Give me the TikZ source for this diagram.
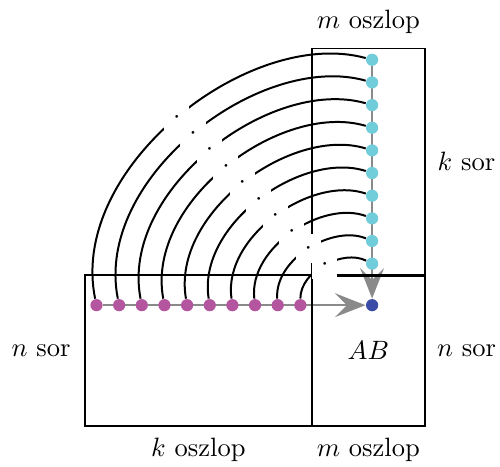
\documentclass[tikz,border=0pt]{standalone}
\usetikzlibrary{arrows.meta,backgrounds}
\definecolor{rowpurple}{HTML}{B4559F}
\definecolor{colcyan}{HTML}{72CDDA}
\definecolor{prodblue}{HTML}{3A4CA6}
\definecolor{flowgray}{HTML}{8A8A8A}
\tikzset{
  matrixbox/.style={draw=black,line width=.7pt},
  entry/.style={circle,inner sep=0pt,minimum size=4.6pt},
  rowentry/.style={entry,fill=rowpurple},
  colentry/.style={entry,fill=colcyan},
  prodentry/.style={entry,fill=prodblue},
  pairing/.style={draw=black,line width=.75pt,relative,out=60,in=123,
    out looseness=.95,in looseness=.85},
  gapdot/.style={fill=white,inner sep=3.33pt},
  sweep/.style={-{Stealth[length=11.5pt,width=9pt,inset=4.5pt]},
    draw=flowgray,line width=.9pt},
}

\begin{document}
\begin{tikzpicture}
\useasboundingbox (-4.128,-2.530) rectangle (2.494,3.642);

% the three matrices
\draw[matrixbox] (-3,-2) rectangle (0,0);
\draw[matrixbox] (0,0) rectangle (1.5,3);
\draw[matrixbox] (0.01,-2) rectangle (1.5,-0.01);
\node (AB) at (0.75,-1) {$AB$};

% sizes
\node (mtop) at (0.75,3.35) {$m$ oszlop};
\node (ksor) at (2.05,1.5) {$k$ sor};
\node (nleft) at (-3.585,-1) {$n$ sor};
\node (nright) at (2.05,-1) {$n$ sor};
\node (kbottom) at (-1.5,-2.32) {$k$ oszlop};
\node (mbottom) at (0.75,-2.32) {$m$ oszlop};

% one row of A, one column of B
\foreach \i in {1,...,10}{
  \node[rowentry] (a\i) at ({-3.15+0.3*\i},-0.4) {};
  \node[colentry] (b\i) at (0.8,{3.15-0.3*\i}) {};
}
\node[prodentry] (c) at (0.8,-0.4) {};
\begin{scope}[on background layer]
  \draw[sweep] (a1) -- (c);
  \draw[sweep] (b1) -- (c);
\end{scope}

% products paired up
\foreach \i in {1,...,10}
  \draw[pairing] (a\i) to node[gapdot] (g\i) {$\cdot$} (b\i);
\end{tikzpicture}
\end{document}
